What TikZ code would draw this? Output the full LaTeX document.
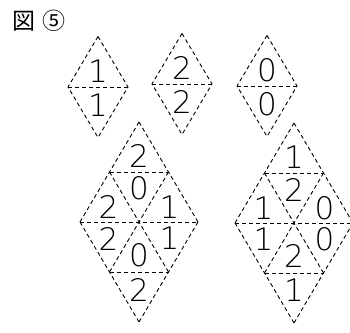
\documentclass[tikz,border=0pt]{standalone}
\usepackage{fontspec}
\setmainfont{Noto Sans CJK JP}
\newfontfamily\digfont{DejaVu Sans ExtraLight}
\begin{document}
\begin{tikzpicture}[x=1pt,y=-1pt,
  edge/.style={draw=black,line width=0.9pt,dash pattern=on 4pt off 3pt},
  num/.style={font=\digfont\fontsize{31}{31}\selectfont,inner sep=0pt,anchor=center},
  ttl/.style={font=\fontsize{23}{23}\selectfont,inner sep=0pt,anchor=center}]
\useasboundingbox (0,0) rectangle (350,332);
\clip (0,0) rectangle (350,332);
\def\hu{30}\def\hh{50.5}
% title
\node[ttl] (ttlA) at (24,21) {図};
\node[ttl] (ttlB) at (54,21) {⑤};
% small diamond macro
\newcommand\smalldia[4]{%
  \coordinate (#1T) at (#2,#3-\hh);
  \coordinate (#1L) at (#2-\hu,#3);
  \coordinate (#1R) at (#2+\hu,#3);
  \coordinate (#1B) at (#2,#3+\hh);
  \draw[edge] (#1T) -- (#1L) -- (#1B);
  \draw[edge] (#1T) -- (#1R) -- (#1B);
  \draw[edge] (#1L) -- (#1R);
  \node[num] (#1n1) at (#2,#3-\hh/3+1) {#4};
  \node[num] (#1n2) at (#2,#3+\hh/3+1) {#4};
}
\smalldia{a}{98}{87}{1}
\smalldia{b}{182}{84}{2}
\smalldia{c}{267}{86}{0}
% big diamond macro
\def\bu{29.5}\def\bh{50}
\newcommand\bigdia[3]{%
  \coordinate (#1T) at (#2,#3-2*\bh);
  \coordinate (#1UL) at (#2-\bu,#3-\bh);
  \coordinate (#1UR) at (#2+\bu,#3-\bh);
  \coordinate (#1L) at (#2-2*\bu,#3);
  \coordinate (#1C) at (#2,#3);
  \coordinate (#1R) at (#2+2*\bu,#3);
  \coordinate (#1LL) at (#2-\bu,#3+\bh);
  \coordinate (#1LR) at (#2+\bu,#3+\bh);
  \coordinate (#1B) at (#2,#3+2*\bh);
  \draw[edge] (#1T) -- (#1L);
  \draw[edge] (#1L) -- (#1B);
  \draw[edge] (#1T) -- (#1R);
  \draw[edge] (#1R) -- (#1B);
  \draw[edge] (#1UL) -- (#1UR);
  \draw[edge] (#1L) -- (#1R);
  \draw[edge] (#1LL) -- (#1LR);
  \draw[edge] (#1UL) -- (#1LR);
  \draw[edge] (#1UR) -- (#1LL);
}
\bigdia{p}{139}{222}
\bigdia{q}{294}{223}
% labels left big
\begin{scope}[shift={(139,222)}]
\node[num] (p1) at (0,-4*\bh/3+1) {2};
\node[num] (p2) at (0,-2*\bh/3) {0};
\node[num] (p3) at (-\bu-1,-\bh/3+2) {2};
\node[num] (p4) at (\bu+1,-\bh/3+2) {1};
\node[num] (p5) at (-\bu-1,\bh/3) {2};
\node[num] (p6) at (0,2*\bh/3) {0};
\node[num] (p7) at (\bu+1,\bh/3) {1};
\node[num] (p8) at (0,4*\bh/3+1) {2};
\end{scope}
\begin{scope}[shift={(294,223)}]
\node[num] (q1) at (0,-4*\bh/3+1) {1};
\node[num] (q2) at (0,-2*\bh/3) {2};
\node[num] (q3) at (-\bu-1,-\bh/3+2) {1};
\node[num] (q4) at (\bu+1,-\bh/3+2) {0};
\node[num] (q5) at (-\bu-1,\bh/3) {1};
\node[num] (q6) at (0,2*\bh/3) {2};
\node[num] (q7) at (\bu+1,\bh/3) {0};
\node[num] (q8) at (0,4*\bh/3+1) {1};
\end{scope}
\end{tikzpicture}
\end{document}
